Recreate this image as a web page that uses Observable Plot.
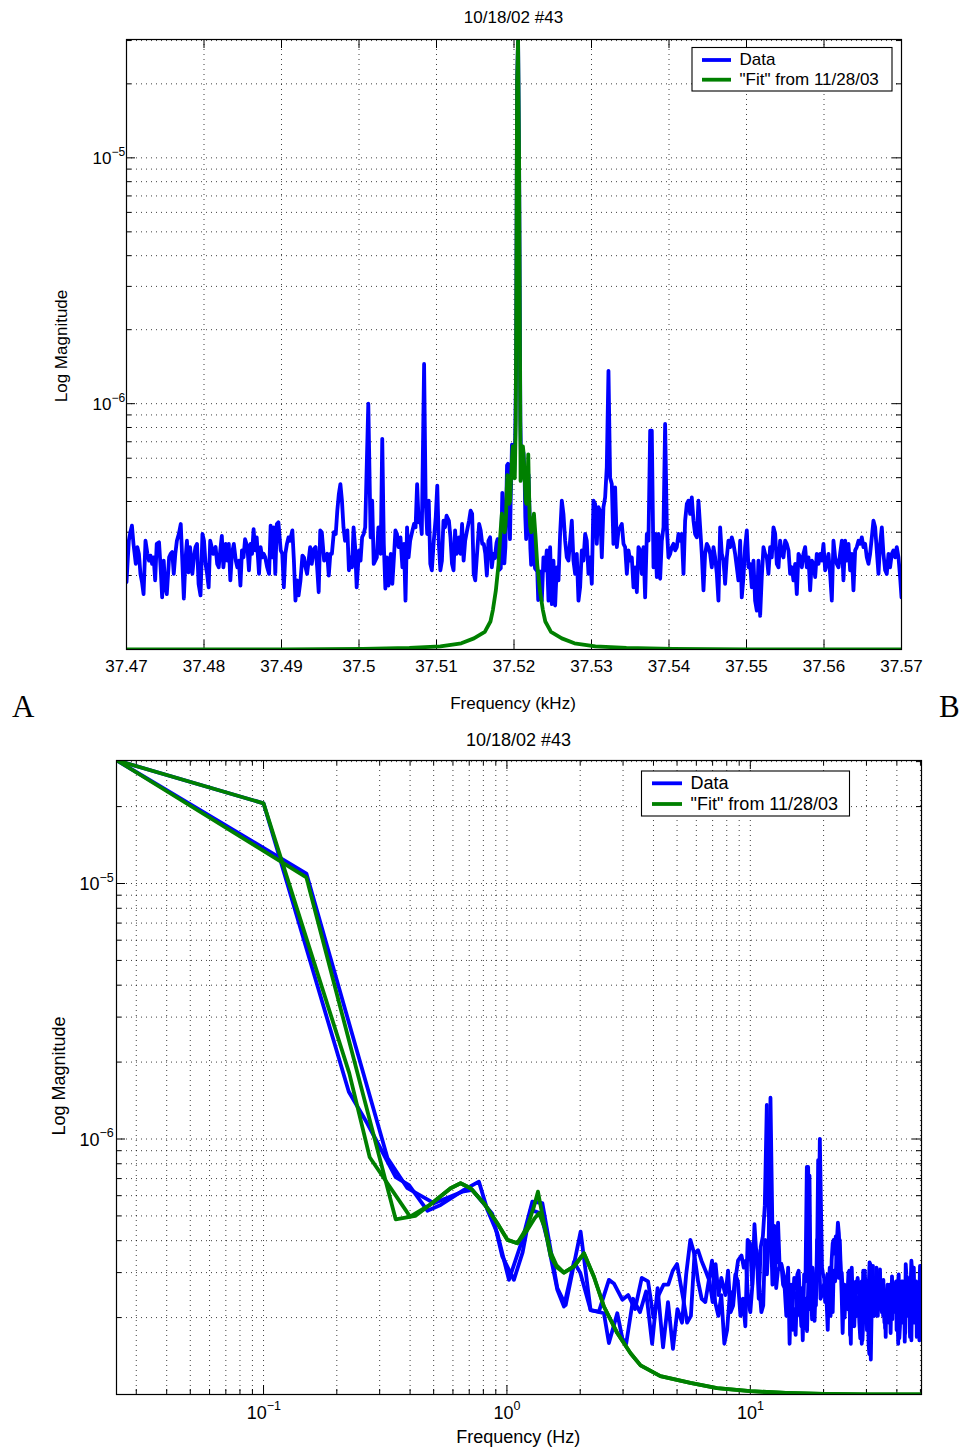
<!DOCTYPE html>
<html><head><meta charset="utf-8">
<script src="https://cdn.jsdelivr.net/npm/d3@7"></script>
<script src="https://cdn.jsdelivr.net/npm/@observablehq/plot@0.6"></script>
<style>
body{margin:0;background:#fff;}
#fig{position:relative;width:966px;height:1450px;overflow:hidden;background:#fff;}
#fig svg{position:absolute;left:0;}
</style></head><body><div id="fig"></div>
<script>
// ---------------- DATA ----------------
const TITLE = "10/18/02 #43";
const LEGEND = ["Data", "\"Fit\" from 11/28/03"];
const CARRIER_KHZ = 37.5205;          // reference frequency (kHz)
const MAG_UNIT = 1e-7;                // magnitudes below are in units of 1e-7
// carrier peak bin: [offset Hz, magnitude]
const peakData = [0.025, 303];
const peakFit = [0.025, 303];
// measured spectrum below the carrier: [offset Hz below, magnitude]
const dataBelow = [[0.1,206],[0.224,15.3],[0.267,11.5],[0.349,7.1],[0.396,6.6],[0.471,5.24],[0.534,5.52],[0.666,6.32],[0.767,6.81],[0.831,5.28],[0.913,4.28],[1.019,2.81],[1.157,4.03],[1.272,5.69],[1.398,5.61],[1.512,3.68],[1.611,2.61],[1.743,2.24],[2.008,4.34],[2.206,2.14],[2.387,2.11],[2.624,2.81],[2.75,2.72],[2.98,2.35],
[3.15,2.45],[3.36,2.16],[3.58,2.86],[3.8,2.77],[4.0,2.0],[4.2,2.45],[4.4,2.69],[4.6,2.69],[4.8,3.05],[5.0,3.24],[5.3,2.37],[5.5,1.91],[5.7,2.03],[5.9,3.56],[6.1,3.67],[6.3,3.34],[6.55,3.05],[6.8,2.77],[7.0,2.30],[7.2,3.24],[7.4,2.45],[7.6,2.86],[7.9,2.45],[8.1,3.05],[8.3,2.10],[8.5,2.23],[8.7,2.86],[8.9,3.34],[9.2,3.5],[9.4,3.14],[9.6,3.34],[9.8,2.30],[10.0,2.10],[10.2,2.69],[10.4,4.64],[10.6,3.45],[10.85,2.77],[11.1,2.10],[11.3,2.23],[11.5,4.03],[11.7,2.95],[11.9,4.03],[12.1,14.5],[12.4,2.95],[12.6,3.45],[12.8,3.29],[13.0,4.71],[13.2,3.14],[13.4,3.24],[13.6,3.05],[13.9,2.77],[14.1,2.37],[14.3,3.14],[14.5,1.58],[14.7,2.69],[14.9,2.16],[15.15,2.86],[15.4,2.61],[15.6,2.95],[15.8,3.05],[16.0,2.34],[16.2,1.85],[16.4,2.45],[16.7,1.82],[16.9,2.37],[17.1,1.77],[17.3,2.69],[17.5,7.19],[17.7,2.45],[18.0,3.14],[18.2,2.37],[18.4,2.30],[18.6,2.23],[18.8,4.03],[19.0,2.86],[19.3,10.0],[19.7,3.14],[19.9,2.95],[20.1,2.86],[20.3,2.30],[20.5,2.53],[20.8,1.79],[21.0,2.61],[21.2,3.14],[21.4,2.16],[21.6,2.37],[21.8,2.10],[22.0,3.05],[22.3,2.77],[22.5,3.14],[22.7,4.03],[22.9,4.71],[23.1,4.29],[23.3,3.67],[23.5,2.95],[23.75,3.0],[24.0,2.45],[24.2,2.45],[24.4,2.0],[24.6,2.45],[24.8,2.37],[25.0,2.30],[25.3,3.0],[25.5,3.05],[25.7,1.71],[25.9,2.16],[26.1,2.61],[26.3,2.57],[26.6,2.23],[26.8,2.61],[27.0,2.30],[27.2,2.03],[27.4,2.16],[27.6,2.37],[27.8,2.41],[28.05,1.91],[28.3,1.66],[28.5,1.91],[28.7,1.58],[28.9,2.30],[29.1,3.05],[29.4,2.77],[29.6,2.86],[29.8,2.69],[30.0,2.45],[30.2,1.79],[30.4,2.45],[30.6,2.53],[30.9,3.29],[31.1,3.24],[31.3,2.03],[31.5,3.14],[31.7,2.37],[31.9,3.19],[32.1,2.03],[32.35,2.16],[32.6,2.37],[32.8,2.45],[33.0,2.37],[33.2,2.61],[33.4,2.03],[33.7,2.86],[33.9,2.53],[34.1,3.09],[34.3,2.45],[34.5,2.69],[34.7,2.10],[34.9,2.61],[35.2,2.81],[35.4,2.37],[35.6,2.53],[35.8,1.82],[36.0,2.30],[36.2,2.16],[36.4,2.30],[36.65,2.69],[36.9,2.45],[37.1,1.91],[37.3,2.69],[37.5,2.30],[37.7,2.69],[38.0,2.16],[38.2,2.90],[38.4,2.53],[38.6,2.16],[38.8,2.23],[39.0,2.61],[39.3,2.45],[39.5,2.61],[39.7,2.77],[39.9,1.79],[40.1,2.03],[40.3,2.23],[40.5,2.77],[40.7,2.95],[40.95,1.66],[41.2,1.85],[41.4,2.69],[41.6,2.61],[41.8,2.37],[42.0,2.03],[42.3,2.61],[42.5,2.06],[42.7,2.77],[42.9,2.30],[43.1,1.61],[43.3,2.30],[43.5,3.24],[43.75,2.95],[44.0,2.77],[44.2,2.45],[44.4,2.03],[44.6,2.49],[44.8,2.45],[45.0,2.37],[45.3,1.68],[45.5,1.79],[45.7,2.30],[45.9,1.63],[46.1,2.16],[46.3,2.73],[46.6,2.69],[46.8,1.91],[47.0,2.37],[47.2,2.23],[47.4,2.41],[47.6,2.30],[47.8,2.45],[48.05,2.77],[48.3,1.68],[48.5,1.88],[48.7,2.03],[48.9,2.45],[49.1,2.61],[49.3,2.23],[49.6,2.69],[49.8,3.19],[50.0,3.0],[50.2,2.77],[50.5,1.88]];
// measured spectrum above the carrier: [offset Hz above, magnitude]
const dataAbove = [[0.15,109.4],[0.323,8.43],[0.39,6.42],[0.501,5.61],[0.656,6.22],[0.721,6.32],[0.87,5.1],[0.957,3.47],[1.068,2.81],[1.16,3.6],[1.251,5.28],[1.375,5.12],[1.465,4.03],[1.611,2.57],[1.715,2.21],[1.885,3.3],[2.0,3.0],[2.206,2.14],[2.503,2.08],[2.624,1.59],[2.84,2.08],[2.98,1.66],
[3.09,1.58],[3.3,2.37],[3.52,2.10],[3.73,2.53],[3.95,1.58],[4.16,2.61],[4.38,1.53],[4.59,2.30],[4.81,1.51],[5.02,2.16],[5.24,1.91],[5.45,2.95],[5.67,4.03],[5.88,3.56],[6.1,2.77],[6.31,2.37],[6.53,2.30],[6.74,2.77],[6.96,3.34],[7.17,2.30],[7.39,2.03],[7.6,2.45],[7.82,1.58],[8.03,1.79],[8.25,2.53],[8.46,2.30],[8.68,2.95],[8.89,2.77],[9.11,2.03],[9.32,2.37],[9.54,1.85],[9.75,4.03],[9.97,3.91],[10.18,2.69],[10.4,3.79],[10.61,3.67],[10.83,2.37],[11.04,3.79],[11.26,4.16],[11.47,5.51],[11.69,13.6],[11.9,5.0],[12.12,4.71],[12.33,2.69],[12.55,4.57],[12.77,2.61],[12.98,3.05],[13.2,3.14],[13.41,3.24],[13.63,2.69],[13.84,2.61],[14.06,2.03],[14.27,2.53],[14.49,2.30],[14.7,2.37],[14.92,1.79],[15.13,2.16],[15.35,1.71],[15.56,2.61],[15.78,2.53],[15.99,2.03],[16.21,2.61],[16.42,1.63],[16.64,2.95],[16.85,2.77],[17.07,7.77],[17.28,7.77],[17.5,2.16],[17.71,2.95],[17.93,1.97],[18.14,2.95],[18.36,1.94],[18.57,2.77],[18.79,3.14],[19.0,8.27],[19.22,3.14],[19.43,2.37],[19.65,2.45],[19.86,2.61],[20.08,2.69],[20.29,2.53],[20.51,2.61],[20.72,2.95],[20.94,2.77],[21.15,2.95],[21.37,2.03],[21.58,3.34],[21.8,3.91],[22.01,4.03],[22.23,3.56],[22.44,4.16],[22.66,3.34],[22.87,2.95],[23.09,2.86],[23.3,4.03],[23.52,3.14],[23.73,2.45],[23.95,1.74],[24.16,2.45],[24.38,2.69],[24.59,2.61],[24.81,2.45],[25.02,2.16],[25.24,2.61],[25.45,2.37],[25.67,2.03],[25.88,1.58],[26.1,3.14],[26.31,2.45],[26.53,2.30],[26.74,1.85],[26.96,2.37],[27.17,2.77],[27.39,2.61],[27.6,2.86],[27.82,2.69],[28.03,2.45],[28.25,2.16],[28.46,1.91],[28.68,2.77],[28.89,1.63],[29.11,1.97],[29.32,2.61],[29.54,3.05],[29.75,2.16],[29.97,2.23],[30.18,1.79],[30.4,2.30],[30.61,1.58],[30.83,1.44],[31.04,2.30],[31.26,1.37],[31.47,1.97],[31.69,2.61],[31.9,2.45],[32.12,2.37],[32.33,2.03],[32.55,2.61],[32.76,2.37],[32.98,3.14],[33.2,2.95],[33.41,2.23],[33.63,2.16],[33.84,2.77],[34.06,2.45],[34.27,2.37],[34.49,2.77],[34.7,2.69],[34.92,2.53],[35.13,2.03],[35.35,2.16],[35.56,1.91],[35.78,2.23],[35.99,1.68],[36.21,2.45],[36.42,2.37],[36.64,2.16],[36.85,2.45],[37.07,2.61],[37.28,2.16],[37.5,2.37],[37.71,1.74],[37.93,2.30],[38.14,2.23],[38.36,1.97],[38.57,2.45],[38.79,2.23],[39.0,2.45],[39.22,2.30],[39.43,2.69],[39.65,2.10],[39.86,2.23],[40.08,2.45],[40.29,2.03],[40.51,1.58],[40.72,2.77],[40.94,2.37],[41.15,2.23],[41.37,2.16],[41.58,2.45],[41.8,2.77],[42.01,1.91],[42.23,2.77],[42.44,2.30],[42.66,2.69],[42.87,2.10],[43.09,2.45],[43.3,1.74],[43.52,2.53],[43.73,2.61],[43.95,2.77],[44.16,2.69],[44.38,2.86],[44.59,2.61],[44.81,2.69],[45.02,2.37],[45.24,2.23],[45.45,2.45],[45.67,2.86],[45.88,3.34],[46.1,3.14],[46.31,2.53],[46.53,2.03],[46.74,2.69],[46.96,3.14],[47.17,2.45],[47.39,2.10],[47.6,2.03],[47.82,2.45],[48.03,2.16],[48.25,2.45],[48.46,2.53],[48.68,2.37],[48.89,2.61],[49.11,2.37],[49.32,1.97],[49.5,1.63]];
// fit below / above the carrier: [offset Hz, magnitude]
const fitBelow = [[0.1,206],[0.225,18.1],[0.273,8.48],[0.4,4.97],[0.486,5.55],[0.587,6.42],[0.645,6.71],[0.709,6.42],[0.804,5.61],[0.913,4.68],[1.004,4.03],[1.103,3.91],[1.213,4.4],[1.3,4.9],[1.354,5.12],[1.43,4.5],[1.512,3.6],[1.6,3.2],[1.715,3.0],[1.885,3.17],[2.072,3.57],[2.277,2.89],[2.503,2.21],[2.84,1.74],[3.22,1.45],[3.54,1.3],[4.27,1.18],[5.67,1.11],[7.3,1.06],[10,1.03],[14,1.015],[20,1.005],[30,1.0],[50.5,1.0]];
const fitAbove = [[0.15,105.6],[0.349,4.85],[0.42,5.0],[0.486,5.55],[0.587,6.42],[0.645,6.71],[0.709,6.42],[0.804,5.61],[0.913,4.68],[1.004,4.03],[1.103,3.91],[1.213,4.54],[1.291,5.44],[1.341,6.22],[1.4,5.0],[1.512,3.47],[1.6,3.15],[1.715,3.0],[1.885,3.17],[2.072,3.57],[2.277,2.89],[2.503,2.21],[2.84,1.74],[3.22,1.45],[3.54,1.3],[4.27,1.18],[5.67,1.11],[7.3,1.06],[10,1.03],[14,1.015],[20,1.005],[30,1.0],[49.5,1.0]];
// axes
const xTicksA = [37.47,37.48,37.49,37.5,37.51,37.52,37.53,37.54,37.55,37.56,37.57];
const xTickLabelsA = ["37.47","37.48","37.49","37.5","37.51","37.52","37.53","37.54","37.55","37.56","37.57"];
const yMajor = [1e-6, 1e-5];
const yMajorExp = ["\u22126", "\u22125"];
const yMinor = [2e-7,3e-7,4e-7,5e-7,6e-7,7e-7,8e-7,9e-7,2e-6,3e-6,4e-6,5e-6,6e-6,7e-6,8e-6,9e-6,2e-5,3e-5];
const xMajorB = [0.1, 1, 10];
const xMajorExpB = ["\u22121", "0", "1"];
const xMinorB = [0.03,0.04,0.05,0.06,0.07,0.08,0.09,0.2,0.3,0.4,0.5,0.6,0.7,0.8,0.9,2,3,4,5,6,7,8,9,20,30,40,50];
const yDomain = [1e-7, 3.03e-5];

// ---------------- BUILD ----------------
const FONT = "Liberation Sans, Arial, Helvetica, sans-serif";
const BLUE = "#0000ff", GREEN = "#008000";
const LW = 3.8;
const GRID = {stroke: "#000", strokeOpacity: 0.75, strokeWidth: 1, strokeDasharray: "1,4"};

const rowsA = (peak, below, above) => [
  ...below.slice().reverse().map(([o, m]) => ({x: CARRIER_KHZ - o / 1000, y: m * MAG_UNIT})),
  {x: CARRIER_KHZ + peak[0] / 1000, y: peak[1] * MAG_UNIT},
  ...above.map(([o, m]) => ({x: CARRIER_KHZ + o / 1000, y: m * MAG_UNIT}))
];
const rowsB = (peak, side) => [peak, ...side].map(([o, m]) => ({x: o, y: m * MAG_UNIT}));

const fig = document.getElementById("fig");

function ticksMarks(fw, fh, xMaj, xMin, yMaj, yMin) {
  const M = 9, m = 5, st = {stroke: "#000", strokeWidth: 1};
  const out = [];
  if (xMaj.length) out.push(Plot.ruleX(xMaj, {...st, insetTop: fh - M}), Plot.ruleX(xMaj, {...st, insetBottom: fh - M}));
  if (xMin.length) out.push(Plot.ruleX(xMin, {...st, insetTop: fh - m}), Plot.ruleX(xMin, {...st, insetBottom: fh - m}));
  out.push(Plot.ruleY(yMaj, {...st, insetRight: fw - M}), Plot.ruleY(yMaj, {...st, insetLeft: fw - M}));
  out.push(Plot.ruleY(yMin, {...st, insetRight: fw - m}), Plot.ruleY(yMin, {...st, insetLeft: fw - m}));
  return out;
}

// Panel A
{
  const L = 126, R = 901, T = 39, Bt = 649, H = 720;
  const plot = Plot.plot({
    width: 966, height: H,
    marginLeft: L, marginRight: 966 - R, marginTop: T, marginBottom: H - Bt,
    x: {domain: [37.47, 37.57], axis: null},
    y: {type: "log", domain: yDomain, axis: null},
    marks: [
      Plot.ruleX(xTicksA.slice(1, -1), GRID),
      Plot.ruleY([...yMajor, ...yMinor], GRID),
      ...ticksMarks(R - L, Bt - T, xTicksA, [], yMajor, yMinor),
      Plot.line(rowsA(peakData, dataBelow, dataAbove), {x: "x", y: "y", stroke: BLUE, strokeWidth: LW, clip: true}),
      Plot.line(rowsA(peakFit, fitBelow, fitAbove), {x: "x", y: "y", stroke: GREEN, strokeWidth: LW, clip: true}),
      Plot.frame({stroke: "#000", strokeWidth: 1.2}),
      Plot.text(xTicksA, {x: d => d, frameAnchor: "bottom", lineAnchor: "middle", dy: 17, text: (d, i) => xTickLabelsA[i], fontSize: 17, fontFamily: FONT, fill: "#000"}),
      Plot.text(yMajor, {y: d => d, frameAnchor: "left", lineAnchor: "middle", dx: -15, dy: 1, textAnchor: "end", text: () => "10", fontSize: 17, fontFamily: FONT, fill: "#000"}),
      Plot.text(yMajor, {y: d => d, frameAnchor: "left", lineAnchor: "middle", dx: -15, dy: -6, textAnchor: "start", text: (d, i) => yMajorExp[i], fontSize: 12, fontFamily: FONT, fill: "#000"})
    ]
  });
  plot.style.top = "0px";
  fig.appendChild(plot);
}

// Panel B
{
  const L = 116, R = 921, T = 40, Bt = 674, H = 730;
  const expW = s => (s.length > 1 ? 13.5 : 6.8);
  const baseW = 20;
  const labelMarks = xMajorB.flatMap((v, i) => {
    const dx = (baseW - expW(xMajorExpB[i])) / 2;
    return [
      Plot.text([v], {x: d => d, frameAnchor: "bottom", lineAnchor: "middle", dx, dy: 19, textAnchor: "end", text: () => "10", fontSize: 18, fontFamily: FONT, fill: "#000"}),
      Plot.text([v], {x: d => d, frameAnchor: "bottom", lineAnchor: "middle", dx, dy: 11, textAnchor: "start", text: () => xMajorExpB[i], fontSize: 12.5, fontFamily: FONT, fill: "#000"})
    ];
  });
  const plot = Plot.plot({
    width: 966, height: H,
    marginLeft: L, marginRight: 966 - R, marginTop: T, marginBottom: H - Bt,
    x: {type: "log", domain: [0.02488, 50.5], axis: null},
    y: {type: "log", domain: yDomain, axis: null},
    marks: [
      Plot.ruleX([...xMajorB, ...xMinorB], GRID),
      Plot.ruleY([...yMajor, ...yMinor], GRID),
      ...ticksMarks(R - L, Bt - T, xMajorB, xMinorB, yMajor, yMinor),
      Plot.line(rowsB(peakData, dataBelow), {x: "x", y: "y", stroke: BLUE, strokeWidth: LW, clip: true}),
      Plot.line(rowsB(peakData, dataAbove), {x: "x", y: "y", stroke: BLUE, strokeWidth: LW, clip: true}),
      Plot.line(rowsB(peakFit, fitBelow), {x: "x", y: "y", stroke: GREEN, strokeWidth: LW, clip: true}),
      Plot.line(rowsB(peakFit, fitAbove), {x: "x", y: "y", stroke: GREEN, strokeWidth: LW, clip: true}),
      Plot.frame({stroke: "#000", strokeWidth: 1.2}),
      ...labelMarks,
      Plot.text(yMajor, {y: d => d, frameAnchor: "left", lineAnchor: "middle", dx: -17, dy: 1, textAnchor: "end", text: () => "10", fontSize: 18, fontFamily: FONT, fill: "#000"}),
      Plot.text(yMajor, {y: d => d, frameAnchor: "left", lineAnchor: "middle", dx: -17, dy: -6, textAnchor: "start", text: (d, i) => yMajorExp[i], fontSize: 12.5, fontFamily: FONT, fill: "#000"})
    ]
  });
  plot.style.top = "720px";
  fig.appendChild(plot);
}

// Overlay: titles, axis labels, legends, panel letters
{
  const svg = d3.select(fig).append("svg")
    .attr("width", 966).attr("height", 1450)
    .style("top", "0px").style("pointer-events", "none")
    .attr("font-family", FONT).attr("fill", "#000");
  const txt = (x, y, s, size, anchor = "middle", rot = 0, family = FONT) => {
    const t = svg.append("text").attr("font-size", size).attr("text-anchor", anchor).attr("font-family", family).text(s);
    if (rot) t.attr("transform", `translate(${x},${y}) rotate(${rot})`);
    else t.attr("x", x).attr("y", y);
    return t;
  };
  // Panel A texts
  txt(513.5, 22.8, TITLE, 17);
  txt(513, 709, "Frequency (kHz)", 17);
  txt(66.5, 346, "Log Magnitude", 17, "middle", -90);
  // Panel B texts
  txt(518.5, 746.4, TITLE, 18);
  txt(518.2, 1443, "Frequency (Hz)", 18);
  txt(65, 1076, "Log Magnitude", 18, "middle", -90);
  // Panel letters
  txt(12, 716.7, "A", 31, "start", 0, "Liberation Serif, Times New Roman, serif");
  txt(939, 716.7, "B", 31, "start", 0, "Liberation Serif, Times New Roman, serif");
  // Legends
  const legend = (x, y, w, h, lx1, lx2, ly, tx, ty, size) => {
    svg.append("rect").attr("x", x).attr("y", y).attr("width", w).attr("height", h)
      .attr("fill", "#fff").attr("stroke", "#000").attr("stroke-width", 1.1);
    [BLUE, GREEN].forEach((c, i) => {
      svg.append("line").attr("x1", lx1).attr("x2", lx2).attr("y1", ly[i]).attr("y2", ly[i])
        .attr("stroke", c).attr("stroke-width", LW);
      txt(tx, ty[i], LEGEND[i], size, "start");
    });
  };
  legend(692, 47.5, 200, 43.5, 702, 731, [60, 79.7], 739.5, [65.3, 85.4], 17);
  legend(641.5, 771, 208, 45, 652, 682, [783.3, 804], 690.6, [789.4, 810.4], 18);
}
</script></body></html>
